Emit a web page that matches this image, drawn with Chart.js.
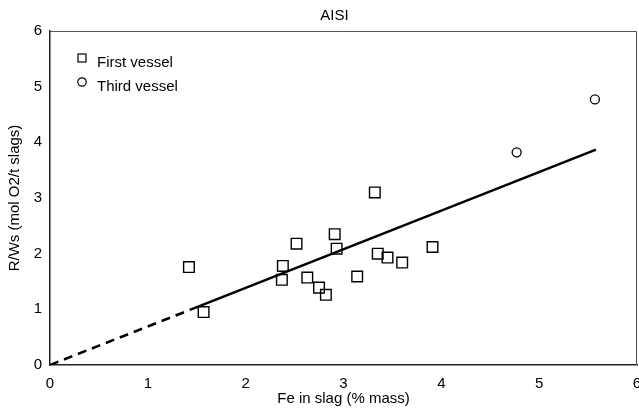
<!DOCTYPE html>
<html>
<head>
<meta charset="utf-8">
<script src="https://cdn.jsdelivr.net/npm/chart.js@4.4.1/dist/chart.umd.min.js"></script>
<style>
	html, body { margin: 0; padding: 0; background: #fff; }
	#wrap { width: 639px; height: 412px; }
</style>
</head>
<body>
<div id="wrap"><canvas id="chart" width="639" height="412"></canvas></div>
<script>
// Values.
var chartTitle  = 'AISI';
var xAxisTitle  = 'Fe in slag (% mass)';
var yAxisTitle  = 'R/Ws (mol O2/t slags)';
var seriesNames = [ 'First vessel', 'Third vessel' ];

var firstX = [ 1.42, 1.57, 2.37, 2.38, 2.52, 2.63, 2.75, 2.82, 2.91, 2.93, 3.14, 3.32, 3.35, 3.45, 3.60, 3.91 ];
var firstY = [ 1.76, 0.95, 1.53, 1.78, 2.18, 1.57, 1.39, 1.26, 2.35, 2.09, 1.59, 3.10, 2.00, 1.93, 1.84, 2.12 ];

var thirdX = [ 4.77, 5.57 ];
var thirdY = [ 3.82, 4.77 ];

// Regression line: dashed extrapolation to the origin, then solid.
var fitX = [ 0, 1.43, 5.58 ];
var fitY = [ 0, 0.99, 3.87 ];

var xTicks = [ 0, 1, 2, 3, 4, 5, 6 ];
var yTicks = [ 0, 1, 2, 3, 4, 5, 6 ];

var FONT = '"Liberation Sans", Arial, Helvetica, sans-serif';

function toPoints( xs, ys ) {
	var pts = [];
	for ( var i = 0; i < xs.length; i++ ) {
		pts.push( { x: xs[ i ], y: ys[ i ] } );
	}
	return pts;
}

// Thin frame on top/right of the plot area, plus the title above it.
var framePlugin = {
	id: 'frame',
	beforeDatasetsDraw: function ( chart ) {
		var a = chart.chartArea;
		var ctx = chart.ctx;
		ctx.save();
		ctx.strokeStyle = '#555';
		ctx.lineWidth = 1;
		ctx.beginPath();
		ctx.moveTo( a.left, a.top + 0.5 );
		ctx.lineTo( a.right - 0.5, a.top + 0.5 );
		ctx.lineTo( a.right - 0.5, a.bottom );
		ctx.stroke();

		ctx.fillStyle = '#000';
		ctx.font = '15px ' + FONT;
		ctx.textAlign = 'center';
		ctx.textBaseline = 'middle';
		ctx.fillText( chartTitle, ( a.left + a.right ) / 2 - 9, a.top / 2 );
		ctx.restore();
	},
};

// Legend inside the plot, upper left.
var insideLegend = {
	id: 'insideLegend',
	afterDraw: function ( chart ) {
		var ctx = chart.ctx;
		var a = chart.chartArea;
		var x0 = a.left + 32;
		var y0 = a.top + 27;
		ctx.save();
		ctx.strokeStyle = '#000';
		ctx.lineWidth = 1.2;
		ctx.strokeRect( x0 - 4, y0 - 4, 8, 8 );
		ctx.beginPath();
		ctx.arc( x0, y0 + 24, 4.2, 0, Math.PI * 2 );
		ctx.stroke();
		ctx.fillStyle = '#000';
		ctx.font = '15px ' + FONT;
		ctx.textBaseline = 'middle';
		ctx.textAlign = 'left';
		ctx.fillText( seriesNames[ 0 ], x0 + 15, y0 + 5 );
		ctx.fillText( seriesNames[ 1 ], x0 + 15, y0 + 29 );
		ctx.restore();
	},
};

var ctx = document.getElementById( 'chart' );

var config = {
	type: 'scatter',
	data: {
		datasets: [
			{
				label: 'fit',
				type: 'line',
				data: toPoints( fitX, fitY ),
				borderColor: '#000',
				borderWidth: 2.5,
				pointRadius: 0,
				fill: false,
				tension: 0,
				segment: {
					borderDash: function ( c ) {
						return c.p0DataIndex === 0 ? [ 9, 6 ] : undefined;
					},
				},
			},
			{
				label: seriesNames[ 0 ],
				data: toPoints( firstX, firstY ),
				pointStyle: 'rect',
				pointRadius: 7.5,
				pointBorderWidth: 1.4,
				pointBorderColor: '#000',
				pointBackgroundColor: 'rgba(255,255,255,0)',
			},
			{
				label: seriesNames[ 1 ],
				data: toPoints( thirdX, thirdY ),
				pointStyle: 'circle',
				pointRadius: 4.5,
				pointBorderWidth: 1.3,
				pointBorderColor: '#000',
				pointBackgroundColor: 'rgba(255,255,255,0)',
			},
		],
	},
	plugins: [ framePlugin, insideLegend ],
	options: {
		responsive: false,
		animation: false,
		layout: {
			autoPadding: false,
			padding: { left: 0, right: 2, top: 31, bottom: 0 },
		},
		plugins: {
			legend: { display: false },
			tooltip: { enabled: false },
			title: { display: false },
		},
		scales: {
			x: {
				type: 'linear',
				min: 0,
				max: 6,
				afterBuildTicks: function ( scale ) {
					scale.ticks = xTicks.map( function ( v ) { return { value: v }; } );
				},
				afterFit: function ( scale ) {
					scale.height = 47;
					scale.paddingLeft = 0;
					scale.paddingRight = 0;
				},
				grid: { display: false, drawTicks: false },
				border: { display: true, color: '#222', width: 1.5 },
				ticks: {
					color: '#000',
					padding: 10,
					maxRotation: 0,
					font: { family: FONT, size: 15 },
				},
				title: {
					display: true,
					text: xAxisTitle,
					color: '#000',
					font: { family: FONT, size: 15 },
					padding: { top: 0, bottom: 4 },
				},
			},
			y: {
				type: 'linear',
				min: 0,
				max: 6,
				afterBuildTicks: function ( scale ) {
					scale.ticks = yTicks.map( function ( v ) { return { value: v }; } );
				},
				afterFit: function ( scale ) {
					scale.width = 50;
					scale.paddingTop = 0;
					scale.paddingBottom = 0;
				},
				grid: { display: false, drawTicks: false },
				border: { display: true, color: '#222', width: 1.5 },
				ticks: {
					color: '#000',
					padding: 8,
					font: { family: FONT, size: 15 },
				},
				title: {
					display: true,
					text: yAxisTitle,
					color: '#000',
					font: { family: FONT, size: 15 },
					padding: { top: 6, bottom: 0 },
				},
			},
		},
	},
};

window.resketchChart = new Chart( ctx, config );
</script>
</body>
</html>
